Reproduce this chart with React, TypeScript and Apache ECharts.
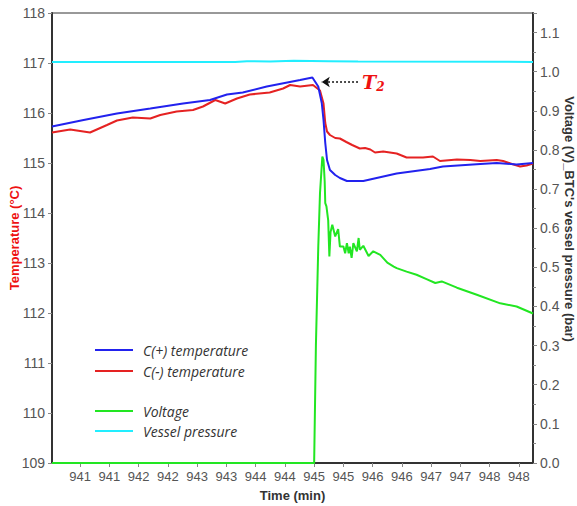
import React, { useEffect, useRef } from "react";
import * as echarts from "echarts";

// ---- data (time in min) ----
const xTickValues = [940.75, 941.25, 941.75, 942.25, 942.75, 943.25, 943.75, 944.25, 944.75, 945.25, 945.75, 946.25, 946.75, 947.25, 947.75, 948.25];

const cPlusTime = [940.27, 940.81, 941.38, 941.95, 942.51, 942.97, 943.26, 943.53, 943.94, 944.51, 944.72, 944.82, 944.88, 944.91, 944.94, 944.97, 945.02, 945.11, 945.19, 945.31, 945.59, 946.16, 946.73, 946.95, 947.59, 947.87, 948.21, 948.49];
const cPlusTemp = [115.73, 115.86, 115.99, 116.09, 116.19, 116.26, 116.37, 116.41, 116.53, 116.66, 116.71, 116.53, 116.2, 115.86, 115.4, 115.06, 114.86, 114.76, 114.7, 114.64, 114.64, 114.79, 114.88, 114.93, 114.98, 115.0, 114.97, 115.0];

const cMinusTime = [940.27, 940.58, 940.92, 941.21, 941.38, 941.65, 941.95, 942.12, 942.4, 942.68, 942.85, 943.06, 943.23, 943.43, 943.65, 943.99, 944.22, 944.34, 944.51, 944.73, 944.85, 944.91, 944.94, 944.97, 945.02, 945.11, 945.19, 945.3, 945.4, 945.53, 945.62, 945.71, 945.79, 945.93, 946.16, 946.33, 946.61, 946.78, 946.9, 947.19, 947.42, 947.59, 947.87, 947.98, 948.13, 948.27, 948.38, 948.49];
const cMinusTemp = [115.61, 115.67, 115.61, 115.76, 115.85, 115.91, 115.89, 115.96, 116.03, 116.06, 116.13, 116.26, 116.19, 116.29, 116.37, 116.41, 116.49, 116.56, 116.53, 116.56, 116.45, 116.19, 115.8, 115.63, 115.56, 115.5, 115.49, 115.42, 115.36, 115.29, 115.3, 115.27, 115.21, 115.23, 115.19, 115.11, 115.11, 115.13, 115.04, 115.07, 115.06, 115.04, 115.06, 115.04, 114.98, 114.93, 114.95, 114.99];

const voltTime = [940.27, 944.75, 944.78, 944.82, 944.85, 944.89, 944.91, 944.93, 944.94, 944.96, 944.99, 945.01, 945.03, 945.06, 945.11, 945.16, 945.19, 945.25, 945.28, 945.31, 945.34, 945.36, 945.39, 945.42, 945.48, 945.51, 945.53, 945.59, 945.68, 945.76, 945.88, 946.0, 946.11, 946.16, 946.33, 946.5, 946.67, 946.82, 946.93, 947.19, 947.53, 947.93, 948.21, 948.49];
const voltValue = [0, 0, 0.3, 0.55, 0.69, 0.783, 0.775, 0.72, 0.664, 0.656, 0.62, 0.528, 0.59, 0.609, 0.579, 0.598, 0.553, 0.553, 0.536, 0.562, 0.536, 0.553, 0.524, 0.562, 0.541, 0.575, 0.545, 0.555, 0.529, 0.541, 0.532, 0.512, 0.502, 0.498, 0.489, 0.481, 0.47, 0.46, 0.464, 0.448, 0.43, 0.408, 0.4, 0.382];

const pressTime = [940.27, 943.4, 943.6, 944.0, 944.4, 945.0, 945.5, 948.49];
const pressValue = [1.025, 1.025, 1.027, 1.026, 1.028, 1.027, 1.026, 1.025];

const zip = (xs: number[], ys: number[]) => xs.map((x, i) => [x, ys[i]]);

export default function App() {
  const ref = useRef<HTMLDivElement>(null);
  useEffect(() => {
    const chart = echarts.init(ref.current!, null, { renderer: "svg" });
    const axisFont = "Liberation Sans";
    const legendText = {
      fontFamily: "Open Sans",
      fontStyle: "italic" as const,
      fontSize: 14,
      color: "#333",
      padding: [0, 0, 0, 5],
      lineHeight: 18,
    };
    chart.setOption({
      animation: false,
      backgroundColor: "#fff",
      grid: {
        left: 52,
        right: 44,
        top: 13,
        bottom: 43,
        show: true,
        borderColor: "#333",
        borderWidth: 1,
        containLabel: false,
        outerBoundsMode: "none",
      },
      legend: [
        {
          data: ["C(+) temperature", "C(-) temperature"],
          orient: "vertical",
          left: 90,
          top: 336,
          icon: "rect",
          itemWidth: 38,
          itemHeight: 2,
          itemGap: 3,
          textStyle: legendText,
        },
        {
          data: ["Voltage", "Vessel pressure"],
          orient: "vertical",
          left: 90,
          top: 397,
          icon: "rect",
          itemWidth: 38,
          itemHeight: 2,
          itemGap: 2,
          textStyle: legendText,
        },
      ],
      xAxis: {
        type: "value",
        min: 940.27,
        max: 948.49,
        name: "Time (min)",
        nameLocation: "middle",
        nameGap: 26,
        nameMoveOverlap: false,
        nameTextStyle: { fontFamily: axisFont, fontWeight: "bold", fontSize: 13, color: "#333" },
        axisLine: { show: true, lineStyle: { color: "#333", width: 2 } },
        axisTick: { show: true, customValues: xTickValues, length: 4, lineStyle: { color: "#888" } },
        axisLabel: {
          customValues: xTickValues,
          formatter: (v: number) => String(Math.round(v)),
          fontFamily: axisFont,
          fontSize: 13,
          color: "#555",
          margin: 7,
        },
        splitLine: { show: false },
      },
      yAxis: [
        {
          type: "value",
          min: 109,
          max: 118,
          interval: 1,
          position: "left",
          name: "Temperature (°C)",
          nameLocation: "middle",
          nameGap: 31,
          nameMoveOverlap: false,
          nameTextStyle: { fontFamily: axisFont, fontWeight: "bold", fontSize: 13, color: "#ee1111" },
          axisLine: { show: true, lineStyle: { color: "#333", width: 2 } },
          axisTick: { show: true, length: 4, lineStyle: { color: "#888" } },
          axisLabel: { fontFamily: axisFont, fontSize: 14, color: "#555", margin: 7 },
          splitLine: { show: false },
        },
        {
          type: "value",
          min: 0,
          max: 1.15,
          interval: 0.1,
          position: "right",
          name: "Voltage (V)_BTC's vessel pressure (bar)",
          nameLocation: "middle",
          nameRotate: -90,
          nameGap: 30,
          nameMoveOverlap: false,
          nameTextStyle: { fontFamily: axisFont, fontWeight: "bold", fontSize: 13, color: "#333", padding: [0, 38, 0, 0] },
          axisLine: { show: true, lineStyle: { color: "#333", width: 2 } },
          axisTick: { show: true, length: 4, lineStyle: { color: "#888" } },
          minorTick: { show: true, splitNumber: 2, length: 3, lineStyle: { color: "#888" } },
          axisLabel: {
            fontFamily: axisFont,
            fontSize: 14,
            color: "#555",
            margin: 7,
            showMaxLabel: false,
            formatter: (v: number) => v.toFixed(1),
          },
          splitLine: { show: false },
        },
      ],
      series: [
        {
          name: "C(+) temperature",
          type: "line",
          yAxisIndex: 0,
          data: zip(cPlusTime, cPlusTemp),
          showSymbol: false,
          color: "#2222ee",
          lineStyle: { width: 2 },
          z: 4,
          markLine: {
            silent: true,
            symbol: ["none", "arrow"],
            symbolSize: 8,
            lineStyle: { color: "#111", type: [2, 2], width: 1.5 },
            label: {
              show: true,
              position: "start",
              distance: 4,
              formatter: "{t|T}{s|2}",
              rich: {
                t: { fontFamily: "DejaVu Serif", fontStyle: "italic", fontWeight: "bold", fontSize: 19, color: "#ee1111" },
                s: { fontFamily: "DejaVu Serif", fontStyle: "italic", fontWeight: "bold", fontSize: 12, color: "#ee1111", padding: [10, 0, 0, 0] },
              },
            },
            data: [[{ coord: [945.5, 116.62] }, { coord: [944.88, 116.62] }]],
          },
        },
        {
          name: "C(-) temperature",
          type: "line",
          yAxisIndex: 0,
          data: zip(cMinusTime, cMinusTemp),
          showSymbol: false,
          color: "#e52222",
          lineStyle: { width: 2 },
          z: 3,
        },
        {
          name: "Voltage",
          type: "line",
          yAxisIndex: 1,
          data: zip(voltTime, voltValue),
          showSymbol: false,
          color: "#22e622",
          lineStyle: { width: 2 },
          z: 2,
        },
        {
          name: "Vessel pressure",
          type: "line",
          yAxisIndex: 1,
          data: zip(pressTime, pressValue),
          showSymbol: false,
          color: "#22eeff",
          lineStyle: { width: 2 },
          z: 2,
        },
      ],
    });
    return () => chart.dispose();
  }, []);
  return <div ref={ref} style={{ position: "fixed", left: 0, top: 0, width: 577, height: 506 }} />;
}
